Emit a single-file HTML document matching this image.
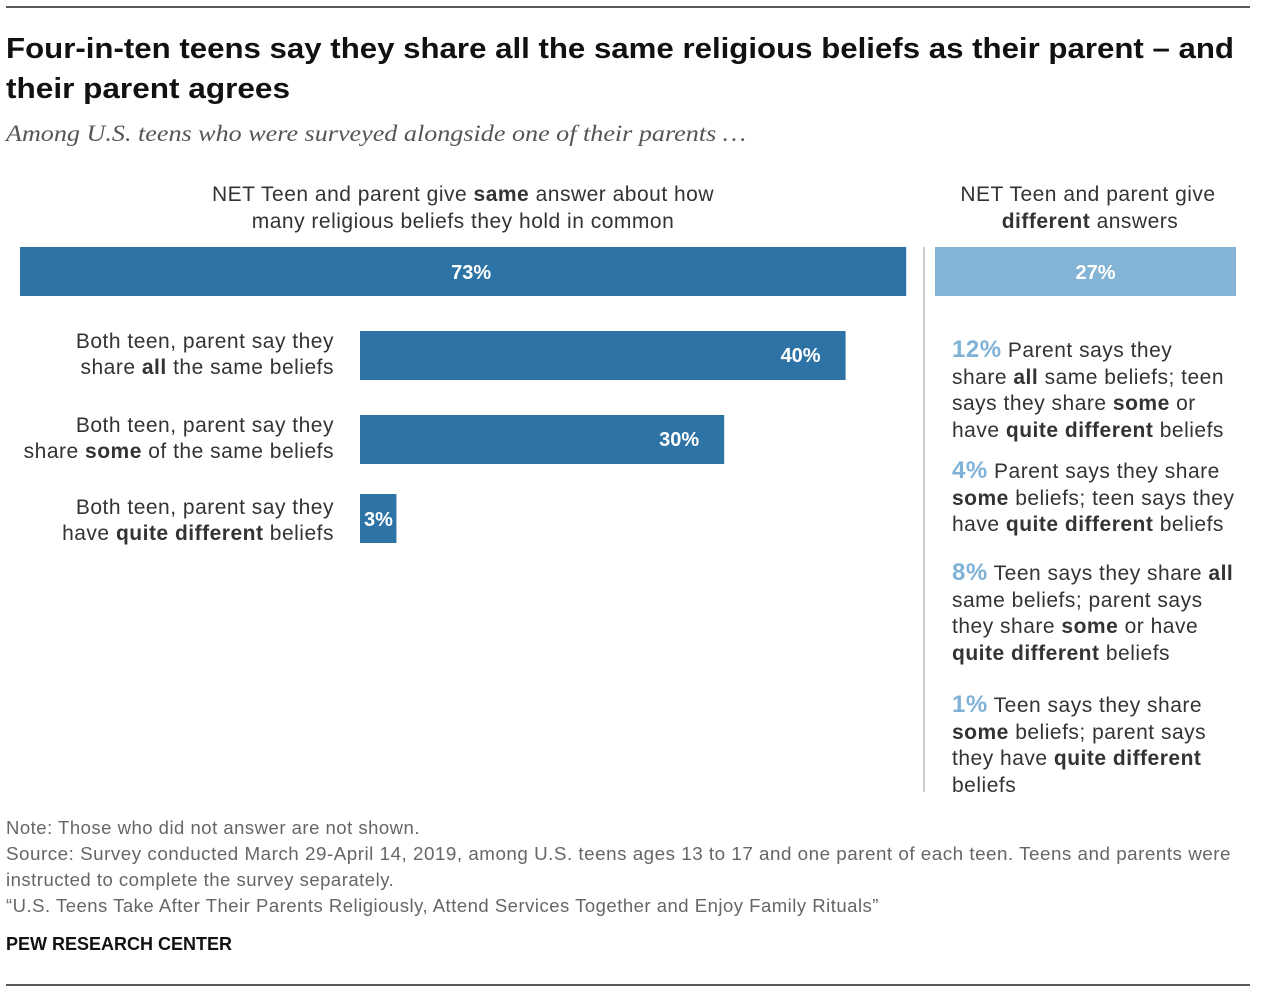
<!DOCTYPE html>
<html><head><meta charset="utf-8"><style>
body{margin:0;background:#fff}
svg{display:block;font-family:"Liberation Sans",sans-serif}
</style></head><body>
<svg id="chart" width="1262" height="992" viewBox="0 0 1262 992">
<line x1="6" y1="7" x2="1250" y2="7" stroke="#222" stroke-width="1.5"/>
<text x="6" y="58" font-size="29" font-weight="bold" fill="#111" textLength="1228" lengthAdjust="spacingAndGlyphs">Four-in-ten teens say they share all the same religious beliefs as their parent – and</text>
<text x="6" y="98" font-size="29" font-weight="bold" fill="#111" textLength="284" lengthAdjust="spacingAndGlyphs">their parent agrees</text>
<text x="6" y="141" font-size="23" font-style="italic" fill="#555" font-family="Liberation Serif,serif" textLength="740" lengthAdjust="spacingAndGlyphs">Among U.S. teens who were surveyed alongside one of their parents …</text>
<g font-size="21" letter-spacing="0.5" fill="#333" text-anchor="middle">
<text x="463" y="201">NET Teen and parent give <tspan font-weight="bold">same</tspan> answer about how</text>
<text x="463" y="228">many religious beliefs they hold in common</text></g>
<g font-size="21" letter-spacing="0.5" fill="#333" text-anchor="middle">
<text x="1088" y="201">NET Teen and parent give</text>
<text x="1090" y="228"><tspan font-weight="bold">different</tspan> answers</text></g>
<line x1="924" y1="247" x2="924" y2="792" stroke="#ccc" stroke-width="2"/>
<g id="bars"></g>
<g font-size="21" letter-spacing="0.5" fill="#333" text-anchor="end">
<text x="334" y="348">Both teen, parent say they</text>
<text x="334" y="374">share <tspan font-weight="bold">all</tspan> the same beliefs</text>
<text x="334" y="432">Both teen, parent say they</text>
<text x="334" y="458">share <tspan font-weight="bold">some</tspan> of the same beliefs</text>
<text x="334" y="514">Both teen, parent say they</text>
<text x="334" y="540">have <tspan font-weight="bold">quite different</tspan> beliefs</text>
</g>
<g font-size="21" letter-spacing="0.5" fill="#333">
<text x="952" y="357"><tspan fill="#7fb2d6" font-size="24" font-weight="bold">12%</tspan> Parent says they</text>
<text x="952" y="384">share <tspan font-weight="bold">all</tspan> same beliefs; teen</text>
<text x="952" y="410">says they share <tspan font-weight="bold">some</tspan> or</text>
<text x="952" y="437">have <tspan font-weight="bold">quite different</tspan> beliefs</text>
<text x="952" y="478"><tspan fill="#7fb2d6" font-size="24" font-weight="bold">4%</tspan> Parent says they share</text>
<text x="952" y="505"><tspan font-weight="bold">some</tspan> beliefs; teen says they</text>
<text x="952" y="531">have <tspan font-weight="bold">quite different</tspan> beliefs</text>
<text x="952" y="580"><tspan fill="#7fb2d6" font-size="24" font-weight="bold">8%</tspan> Teen says they share <tspan font-weight="bold">all</tspan></text>
<text x="952" y="607">same beliefs; parent says</text>
<text x="952" y="633">they share <tspan font-weight="bold">some</tspan> or have</text>
<text x="952" y="660"><tspan font-weight="bold">quite different</tspan> beliefs</text>
<text x="952" y="712"><tspan fill="#7fb2d6" font-size="24" font-weight="bold">1%</tspan> Teen says they share</text>
<text x="952" y="739"><tspan font-weight="bold">some</tspan> beliefs; parent says</text>
<text x="952" y="765">they have <tspan font-weight="bold">quite different</tspan></text>
<text x="952" y="792">beliefs</text>
</g>
<g font-size="18.5" letter-spacing="0.5" fill="#666">
<text x="6" y="834">Note: Those who did not answer are not shown.</text>
<text x="6" y="860" textLength="1225" lengthAdjust="spacingAndGlyphs">Source: Survey conducted March 29-April 14, 2019, among U.S. teens ages 13 to 17 and one parent of each teen. Teens and parents were</text>
<text x="6" y="886">instructed to complete the survey separately.</text>
<text x="6" y="912">“U.S. Teens Take After Their Parents Religiously, Attend Services Together and Enjoy Family Rituals”</text>
</g>
<text x="6" y="950" font-size="18" font-weight="bold" fill="#111">PEW RESEARCH CENTER</text>
<line x1="6" y1="985" x2="1250" y2="985" stroke="#222" stroke-width="1.5"/>
</svg>
<script>
const subCategories = ["all-same", "some-same", "quite-different"];
const subValues = [40, 30, 3];
const netSame = [73];
const netDifferent = [27];
const NS = "http://www.w3.org/2000/svg";
const g = document.getElementById("bars");
const x = v => v * 12.14;
const xr = v => v * 11.15;
function rect(x0, y, w, h, fill, name) {
  const r = document.createElementNS(NS, "rect");
  r.setAttribute("x", x0); r.setAttribute("y", y);
  r.setAttribute("width", w); r.setAttribute("height", h);
  r.setAttribute("fill", fill);
  
  
  g.appendChild(r);
}
function label(tx, ty, s, anchor, name) {
  const t = document.createElementNS(NS, "text");
  t.setAttribute("x", tx); t.setAttribute("y", ty);
  t.setAttribute("fill", "#fff"); t.setAttribute("font-size", "20");
  t.setAttribute("font-weight", "bold"); t.setAttribute("text-anchor", anchor);
  t.textContent = s;
  
  
  g.appendChild(t);
}
rect(20, 247, x(netSame[0]), 49, "#2e73a5", "bar-net-same");
label(28 + x(netSame[0]) / 2, 279, netSame[0] + "%", "middle", "value-net-same");
rect(935, 247, xr(netDifferent[0]), 49, "#83b3d5", "bar-net-different");
label(945 + xr(netDifferent[0]) / 2, 279, netDifferent[0] + "%", "middle", "value-net-different");
const ys = [331, 415, 494];
subValues.forEach((v, i) => {
  const w = x(v);
  rect(360, ys[i], w, 49, "#2e73a5", "bar-" + subCategories[i]);
  if (w > 60) label(360 + w - 25, ys[i] + 31, v + "%", "end", "value-" + subCategories[i]);
  else label(364, ys[i] + 32, v + "%", "start", "value-" + subCategories[i]);
});
</script>
</body></html>
